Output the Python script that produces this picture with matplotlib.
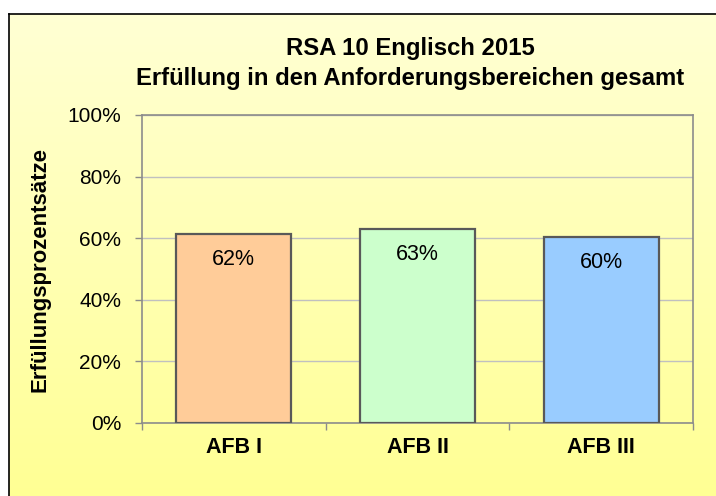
import numpy as np
import matplotlib.pyplot as plt
from matplotlib.ticker import PercentFormatter

plt.rcParams["font.family"] = ["Liberation Sans", "DejaVu Sans"]

# data
categories = ["AFB I", "AFB II", "AFB III"]
values = [61.4, 63.1, 60.4]
labels = ["62%", "63%", "60%"]
bar_colors = ["#FFCC99", "#CCFFCC", "#99CCFF"]

W, H = 716, 496
fig = plt.figure(figsize=(W / 100, H / 100), dpi=100)
fig.patch.set_facecolor("white")

# chart area background: yellow gradient with border on top/left
bg = fig.add_axes([9 / W, 0, 1 - 9 / W, 1 - 14 / H], zorder=0)
grad = np.linspace(0, 1, 256).reshape(-1, 1)
top = np.array([255, 255, 212]) / 255
bot = np.array([255, 255, 148]) / 255
img = top + (bot - top) * grad[:, :, None]
bg.imshow(img, aspect="auto", extent=[0, 1, 0, 1])
bg.set_xticks([])
bg.set_yticks([])
for s in ["right", "bottom"]:
    bg.spines[s].set_visible(False)
for s in ["top", "left"]:
    bg.spines[s].set_color("black")
    bg.spines[s].set_linewidth(1.2)

ax = fig.add_axes([142 / W, 1 - 423 / H, (693 - 142) / W, (423 - 115) / H], zorder=1)
ax.patch.set_alpha(0)

x = np.arange(len(categories))
bars = ax.bar(x, values, width=0.625, color=bar_colors, edgecolor="#595959",
              linewidth=1.6, zorder=3)
for b, lab in zip(bars, labels):
    ax.annotate(lab, (b.get_x() + b.get_width() / 2, b.get_height()),
                xytext=(0, -22.3), textcoords="offset points",
                ha="center", va="baseline", fontsize=15.5, color="black")

ax.set_xlim(-0.5, len(categories) - 0.5)
ax.set_ylim(0, 100)
ax.set_yticks(np.arange(0, 101, 20))
ax.yaxis.set_major_formatter(PercentFormatter(decimals=0))
ax.set_xticks(x)
ax.set_xticklabels(categories, fontsize=15.5, fontweight="bold")
ax.set_xticks(np.arange(-0.5, len(categories)), minor=True)
ax.tick_params(axis="x", which="major", length=0, pad=10)
ax.tick_params(axis="x", which="minor", length=5, color="#8C8C8C", width=1)
ax.tick_params(axis="y", labelsize=15, length=5, color="#8C8C8C", width=1, pad=10)
ax.grid(axis="y", color="#C0C0C0", linewidth=1, zorder=0)
ax.set_axisbelow(True)
for s in ax.spines.values():
    s.set_color("#8C8C8C")
    s.set_linewidth(1.2)

ax.set_ylabel("Erfüllungsprozentsätze", fontsize=16, fontweight="bold", labelpad=12)

fig.text(410 / W, 1 - 48 / H, "RSA 10 Englisch 2015", ha="center", va="center",
         fontsize=17.2, fontweight="bold")
fig.text(410 / W, 1 - 79 / H, "Erfüllung in den Anforderungsbereichen gesamt",
         ha="center", va="center", fontsize=17.2, fontweight="bold")

fig.savefig("out.png", dpi=100)
